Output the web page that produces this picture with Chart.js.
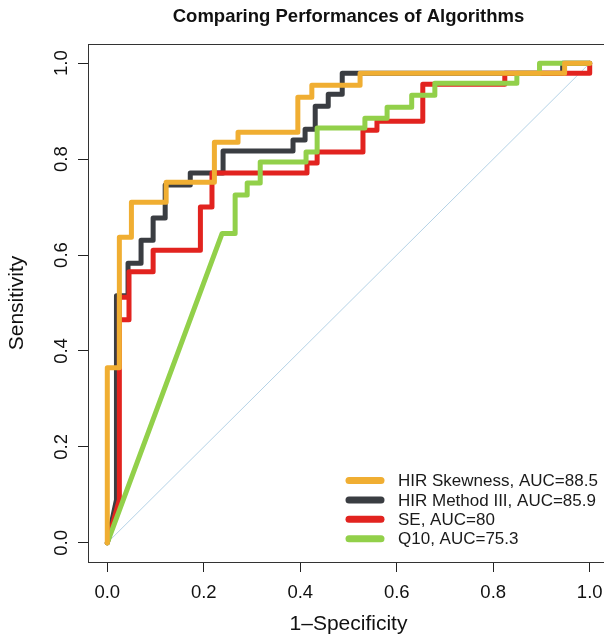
<!DOCTYPE html>
<html>
<head>
<meta charset="utf-8">
<script src="https://cdn.jsdelivr.net/npm/chart.js@4.4.0/dist/chart.umd.min.js"></script>
<style>
    html, body { margin: 0; padding: 0; background: #fff; overflow: hidden; }
    canvas { display: block; }
</style>
</head>
<body>
<canvas id="rocChart" width="620" height="637"></canvas>
<script>
// ROC curves (staircase corners)
const skewFpr = [0, 0, 0.025, 0.025, 0.05, 0.05, 0.122, 0.122, 0.222, 0.222, 0.271, 0.271, 0.395, 0.395, 0.424, 0.424, 0.524, 0.524, 0.948, 0.948, 1];
const skewTpr = [0, 0.365, 0.365, 0.637, 0.637, 0.71, 0.71, 0.752, 0.752, 0.835, 0.835, 0.856, 0.856, 0.929, 0.929, 0.954, 0.954, 0.979, 0.979, 1, 1];

const methodFpr = [0, 0.019, 0.019, 0.043, 0.043, 0.07, 0.07, 0.095, 0.095, 0.12, 0.12, 0.172, 0.172, 0.24, 0.24, 0.385, 0.385, 0.41, 0.41, 0.431, 0.431, 0.458, 0.458, 0.487, 0.487, 0.944, 0.944, 1];
const methodTpr = [0, 0.09, 0.515, 0.515, 0.583, 0.583, 0.631, 0.631, 0.677, 0.677, 0.746, 0.746, 0.771, 0.771, 0.817, 0.817, 0.84, 0.84, 0.862, 0.862, 0.91, 0.91, 0.935, 0.935, 0.979, 0.979, 1, 1];

const seFpr = [0, 0.025, 0.025, 0.045, 0.045, 0.025, 0.045, 0.045, 0.095, 0.095, 0.193, 0.193, 0.217, 0.217, 0.414, 0.414, 0.435, 0.435, 0.53, 0.53, 0.559, 0.559, 0.654, 0.654, 0.824, 0.824, 1, 1];
const seTpr = [0, 0.09, 0.512, 0.512, 0.465, 0.465, 0.465, 0.565, 0.565, 0.61, 0.61, 0.70, 0.70, 0.771, 0.771, 0.792, 0.792, 0.815, 0.815, 0.86, 0.86, 0.879, 0.879, 0.956, 0.956, 0.979, 0.979, 1];

const q10Fpr = [0, 0.238, 0.265, 0.265, 0.29, 0.29, 0.317, 0.317, 0.412, 0.412, 0.435, 0.435, 0.534, 0.534, 0.58, 0.58, 0.631, 0.631, 0.679, 0.679, 0.849, 0.849, 0.896, 0.896, 1];
const q10Tpr = [0, 0.645, 0.645, 0.725, 0.725, 0.75, 0.75, 0.794, 0.794, 0.815, 0.815, 0.865, 0.865, 0.885, 0.885, 0.908, 0.908, 0.933, 0.933, 0.958, 0.958, 0.979, 0.979, 1, 1];

const chanceFpr = [0, 1];
const chanceTpr = [0, 1];

const seriesLabels = ['HIR Skewness, AUC=88.5', 'HIR Method III, AUC=85.9', 'SE, AUC=80', 'Q10, AUC=75.3'];
const tickValues = [0, 0.2, 0.4, 0.6, 0.8, 1.0];

const FONT = '"Liberation Sans", Arial, Helvetica, sans-serif';

function toPoints(xs, ys) {
    return xs.map((x, i) => ({ x: x, y: ys[i] }));
}

function curve(label, xs, ys, color, order) {
    return {
        label: label,
        data: toPoints(xs, ys),
        borderColor: color,
        backgroundColor: color,
        borderWidth: 5,
        borderJoinStyle: 'round',
        borderCapStyle: 'round',
        pointRadius: 0,
        tension: 0,
        fill: false,
        order: order
    };
}

// box round the plot region, like R's box()
const plotBox = {
    id: 'plotBox',
    afterDraw(chart) {
        const a = chart.chartArea;
        const ctx = chart.ctx;
        ctx.save();
        ctx.strokeStyle = '#333';
        ctx.lineWidth = 1;
        ctx.strokeRect(a.left + 0.5, a.top + 0.5, a.right - a.left, a.bottom - a.top);
        ctx.restore();
    }
};

// legend inside the plot, bottom right, no frame
const innerLegend = {
    id: 'innerLegend',
    afterDraw(chart) {
        const a = chart.chartArea;
        const ctx = chart.ctx;
        ctx.save();
        ctx.font = '17px ' + FONT;
        ctx.textBaseline = 'middle';
        ctx.textAlign = 'left';
        chart.data.datasets.forEach((ds, i) => {
            if (!ds.label) return;
            const y = a.bottom - 81.5 + i * 19.4;
            ctx.strokeStyle = ds.borderColor;
            ctx.lineWidth = 7;
            ctx.lineCap = 'round';
            ctx.beginPath();
            ctx.moveTo(a.right - 260, y);
            ctx.lineTo(a.right - 228, y);
            ctx.stroke();
            ctx.fillStyle = '#1a1a1a';
            ctx.fillText(ds.label, a.right - 211, y + 1);
        });
        ctx.restore();
    }
};

function setTicks(scale) {
    scale.ticks = tickValues.map(v => ({ value: v }));
}

function drawChart() {
    const ctx = document.getElementById('rocChart').getContext('2d');

    new Chart(ctx, {
        type: 'line',
        data: {
            datasets: [
                curve(seriesLabels[0], skewFpr, skewTpr, '#F0AE32', 0),
                curve(seriesLabels[1], methodFpr, methodTpr, '#3A3D42', 3),
                curve(seriesLabels[2], seFpr, seTpr, '#E2231F', 2),
                curve(seriesLabels[3], q10Fpr, q10Tpr, '#92D04A', 1),
                {
                    label: '',
                    data: toPoints(chanceFpr, chanceTpr),
                    borderColor: '#B4D2E6',
                    borderWidth: 1,
                    pointRadius: 0,
                    fill: false,
                    order: 4
                }
            ]
        },
        options: {
            responsive: false,
            animation: false,
            layout: { padding: { left: 0, right: 11, top: 0, bottom: 0 } },
            plugins: {
                legend: { display: false },
                tooltip: { enabled: false },
                title: {
                    display: true,
                    text: 'Comparing Performances of Algorithms',
                    fullSize: false,
                    color: '#111',
                    font: { family: FONT, size: 18.5, weight: 'bold', lineHeight: 1.2 },
                    padding: { top: 6, bottom: 15.8 }
                }
            },
            scales: {
                x: {
                    type: 'linear',
                    min: -0.04,
                    max: 1.04,
                    afterBuildTicks: setTicks,
                    afterFit: (scale) => { scale.height = 75; },
                    grid: { drawOnChartArea: false, drawTicks: true, tickLength: 10, color: '#222' },
                    border: { display: true, color: '#333' },
                    ticks: {
                        color: '#111',
                        padding: 10,
                        maxRotation: 0,
                        font: { family: FONT, size: 18.5 },
                        callback: (v) => v.toFixed(1)
                    },
                    title: {
                        display: true,
                        text: '1\u2013Specificity',
                        color: '#111',
                        font: { family: FONT, size: 21, lineHeight: 1.2 },
                        padding: { top: 0, bottom: 0 }
                    }
                },
                y: {
                    type: 'linear',
                    min: -0.04,
                    max: 1.04,
                    afterBuildTicks: setTicks,
                    afterFit: (scale) => { scale.width = 88; },
                    grid: { drawOnChartArea: false, drawTicks: true, tickLength: 10, color: '#222' },
                    border: { display: true, color: '#333' },
                    ticks: {
                        color: '#111',
                        padding: 3,
                        minRotation: 90,
                        maxRotation: 90,
                        crossAlign: 'center',
                        font: { family: FONT, size: 18.5 },
                        callback: (v) => v.toFixed(1)
                    },
                    title: {
                        display: true,
                        text: 'Sensitivity',
                        color: '#111',
                        font: { family: FONT, size: 21, lineHeight: 1.2 },
                        padding: { top: 5, bottom: 0 }
                    }
                }
            }
        },
        plugins: [plotBox, innerLegend]
    });
}

drawChart();
</script>
</body>
</html>
